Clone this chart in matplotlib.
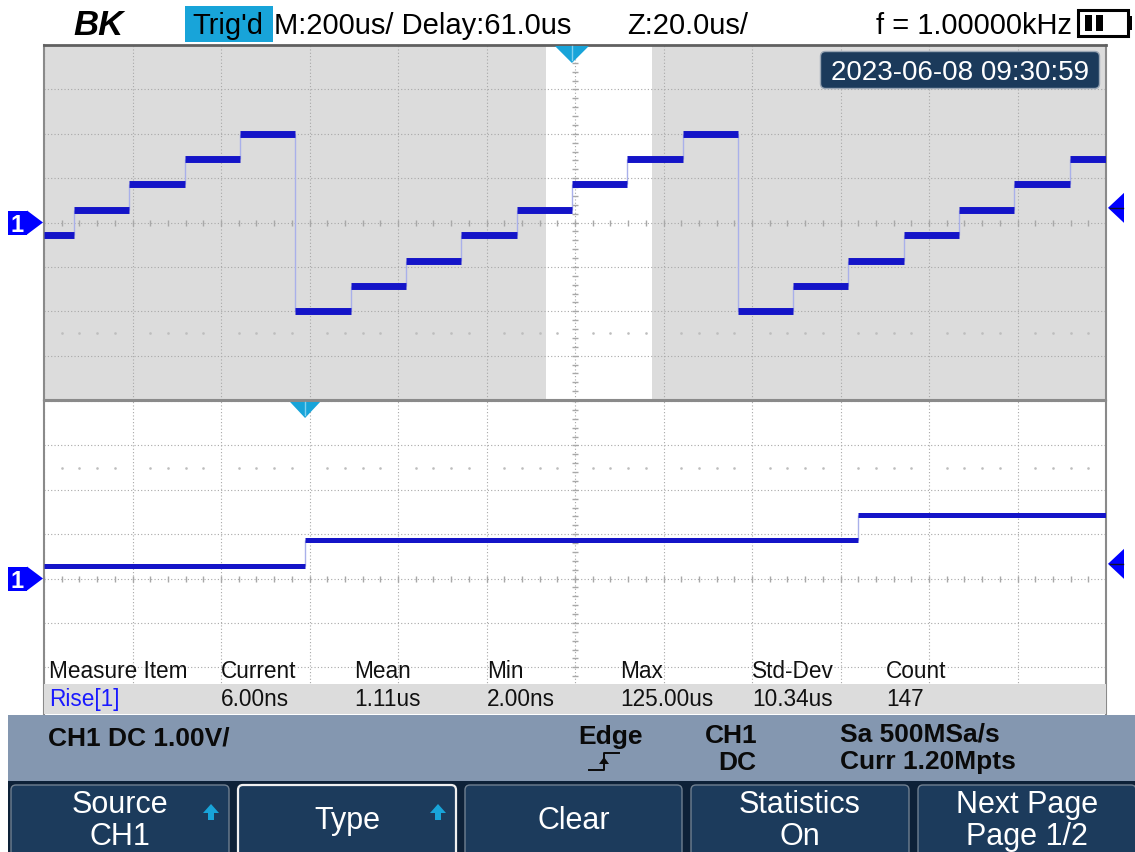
import matplotlib
matplotlib.use("Agg")
import matplotlib.pyplot as plt
from matplotlib.patches import Rectangle, FancyBboxPatch, Polygon
from matplotlib import font_manager as fm

# ---------------- data ----------------
# main window staircase: edge times (us, relative to trigger) and levels (V)
main_edges_us = [-1193, -1125, -1000, -875, -750, -625, -500, -375, -250, -125,
                 0, 125, 250, 375, 500, 625, 750, 875, 1000, 1125, 1207]
main_levels_v = [-0.29, 0.29, 0.86, 1.43, 2.00, -2.00, -1.43, -0.86, -0.29, 0.29,
                 0.86, 1.43, 2.00, -2.00, -1.43, -0.86, -0.29, 0.29, 0.86, 1.43]
# zoom window
zoom_edges_us = [-59, 0, 125, 181]
zoom_levels_v = [0.29, 0.86, 1.43]

trigger_time_us = 0
trigger_level_v = 0.33
main_window_us = (-1193, 1207)
zoom_window_us = (-59, 181)
main_div_us = 200
zoom_div_us = 20
volt_div_range = (-4, 4)

logo_text = "BK"
trig_state = "Trig'd"
timebase_text = "M:200us/ Delay:61.0us"
zoom_text = "Z:20.0us/"
freq_text = "f = 1.00000kHz"
timestamp = "2023-06-08 09:30:59"

measure_headers = ["Measure Item", "Current", "Mean", "Min", "Max", "Std-Dev", "Count"]
measure_values = ["Rise[1]", "6.00ns", "1.11us", "2.00ns", "125.00us", "10.34us", "147"]

status_channel = "CH1 DC 1.00V/"
status_trig_type = "Edge"
status_trig_src = ["CH1", "DC"]
status_sample = ["Sa 500MSa/s", "Curr 1.20Mpts"]

button_labels = ["Source\nCH1", "Type", "Clear", "Statistics\nOn", "Next Page\nPage 1/2"]
button_arrow = [True, True, False, False, False]
button_selected = [False, True, False, False, False]

# ---------------- styling / layout ----------------
W, H = 1135, 852
SANS = "Liberation Sans"
names = {f.name for f in fm.fontManager.ttflist}
if "Liberation Sans Narrow" in names:
    NARROW, NSIZE = "Liberation Sans Narrow", 19.5
else:
    NARROW, NSIZE = "Liberation Sans", 16.3

WAVE = "#1414c8"
EDGE = "#a9b0ea"
GRID = "#a8a8a8"
CYAN = "#18a4d9"
NAVY = "#1b3a5b"
PANEL_GRAY = "#dcdcdc"
BORDER = "#8a8a8a"

fig = plt.figure(figsize=(W / 100, H / 100), dpi=100)
fig.patch.set_facecolor("white")


def px_axes(x0, y0, x1, y1, **kw):
    return fig.add_axes([x0 / W, 1 - y1 / H, (x1 - x0) / W, (y1 - y0) / H], **kw)


top_box = (44, 45, 1106, 400)
bot_box = (44, 401, 1106, 716)
div_px = (top_box[3] - top_box[1]) / 8.0

ax_top = px_axes(*top_box)
ax_bot = px_axes(*bot_box)

ax_top.set_xlim(*main_window_us)
ax_top.set_ylim(*volt_div_range)
bot_vmin = volt_div_range[1] - (bot_box[3] - bot_box[1]) / div_px
ax_bot.set_xlim(*zoom_window_us)
ax_bot.set_ylim(bot_vmin, volt_div_range[1])

ax_top.set_facecolor(PANEL_GRAY)
ax_bot.set_facecolor("white")
ax_top.axvspan(zoom_window_us[0], zoom_window_us[1], color="white", zorder=0, lw=0)


def draw_grid(ax, window, tdiv, dot_row):
    c = 0.5 * (window[0] + window[1])
    ls = (0, (1, 2))
    for k in range(-6, 7):
        ax.axvline(c + k * tdiv, color=GRID, lw=0.8, ls=ls, zorder=1)
    for v in range(-4, 5):
        ax.axhline(v, color=GRID, lw=0.8, ls=ls, zorder=1)
    minor_t = [c + k * tdiv / 5.0 for k in range(-30, 31)]
    ax.plot(minor_t, [0] * len(minor_t), ls="none", marker="|", ms=4,
            mew=1.0, color=GRID, zorder=1)
    minor_v = [k * 0.2 for k in range(-20, 21)]
    ax.plot([c] * len(minor_v), minor_v, ls="none", marker="_", ms=4,
            mew=1.0, color=GRID, zorder=1)
    dots = [t for i, t in enumerate(minor_t) if i % 5 != 0]
    ax.plot(dots, [dot_row] * len(dots), ls="none", marker="s", ms=0.8,
            color="#bdbdbd", zorder=1)


draw_grid(ax_top, main_window_us, main_div_us, -2.5)
draw_grid(ax_bot, zoom_window_us, zoom_div_us, 2.5)


def draw_wave(ax, edges, levels, lw):
    for i in range(1, len(levels)):
        ax.vlines(edges[i], levels[i - 1], levels[i], colors=EDGE, lw=1.0, zorder=2)
    for i, lv in enumerate(levels):
        ax.hlines(lv, edges[i], edges[i + 1], colors=WAVE, lw=lw, zorder=3)


draw_wave(ax_top, main_edges_us, main_levels_v, 5.0)
draw_wave(ax_bot, zoom_edges_us, zoom_levels_v, 3.6)

for ax in (ax_top, ax_bot):
    ax.set_xticks([])
    ax.set_yticks([])
    for s in ax.spines.values():
        s.set_color(BORDER)
        s.set_linewidth(1.5)
ax_top.spines["top"].set_color("#606060")
ax_top.spines["top"].set_linewidth(2.0)
ax_bot.spines["bottom"].set_visible(False)

# ---------------- overlay (screen chrome) ----------------
ov = fig.add_axes([0, 0, 1, 1], zorder=10)
ov.set_xlim(0, W)
ov.set_ylim(H, 0)
ov.axis("off")
ov.patch.set_alpha(0)


def to_px(ax, x, y):
    dx, dy = ax.transData.transform((x, y))
    return dx, H - dy


# top bar
ov.text(73, 35, logo_text, fontsize=25, fontweight="bold", fontstyle="italic",
        family=SANS, color="black", va="baseline", ha="left")
ov.add_patch(Rectangle((185, 6), 88, 36, color=CYAN, lw=0))
ov.text(192, 34, trig_state, fontsize=21, family=SANS, color="black", va="baseline")
ov.text(274, 34, timebase_text, fontsize=21, family=SANS, color="black", va="baseline")
ov.text(627, 34, zoom_text, fontsize=21, family=SANS, color="black", va="baseline")
ov.text(876, 34, freq_text, fontsize=21, family=SANS, color="black", va="baseline")
# battery
ov.add_patch(Rectangle((1078, 10), 50, 26, fill=False, ec="black", lw=2.2))
ov.add_patch(Rectangle((1128, 16), 4, 14, color="black", lw=0))
ov.add_patch(Rectangle((1085, 15), 7, 16, color="black", lw=0))
ov.add_patch(Rectangle((1096, 15), 7, 16, color="black", lw=0))

# timestamp box
ov.add_patch(FancyBboxPatch((822, 53), 276, 34, boxstyle="round,pad=1.5,rounding_size=5",
                            fc=NAVY, ec="#9aa6b4", lw=1.0))
ov.text(960, 80, timestamp, fontsize=20, family=SANS, color="white",
        ha="center", va="baseline")

# trigger position markers (cyan, pointing down)
tx, _ = to_px(ax_top, trigger_time_us, 0)
ov.add_patch(Polygon([(tx - 17, 46), (tx + 17, 46), (tx, 63)], closed=True,
                     color=CYAN, lw=0))
ov.plot([tx, tx], [46, 60], color="#7fd0ef", lw=1.0)
bx, _ = to_px(ax_bot, trigger_time_us, 0)
ov.add_patch(Polygon([(bx - 15, 402), (bx + 15, 402), (bx, 418)], closed=True,
                     color=CYAN, lw=0))
ov.plot([bx, bx], [402, 415], color="#7fd0ef", lw=1.0)

# channel ground markers (left) and trigger level markers (right)
for ax in (ax_top, ax_bot):
    _, gy = to_px(ax, 0, 0)
    ov.add_patch(Rectangle((8, gy - 12), 19, 24, color="#0000ff", lw=0))
    ov.add_patch(Polygon([(27, gy - 12), (27, gy + 12), (43, gy)], closed=True,
                         color="#0000ff", lw=0))
    ov.text(17, gy + 9, "1", fontsize=17, fontweight="bold", family=SANS,
            color="white", ha="center", va="baseline")
    _, ly = to_px(ax, 0, trigger_level_v)
    ov.add_patch(Polygon([(1108, ly), (1124, ly - 15), (1124, ly + 15)], closed=True,
                         color="#0000ff", lw=0))
    ov.plot([1110, 1123], [ly, ly], color="#101030", lw=1.0)

# measurement table
ov.add_patch(Rectangle((44, 684), 1062, 30, color=PANEL_GRAY, lw=0))
col_x = [49, 221, 354, 487, 620, 752, 886]
for i, (hd, val) in enumerate(zip(measure_headers, measure_values)):
    ov.text(col_x[i], 678, hd, fontsize=NSIZE, family=NARROW, color="#111111",
            va="baseline")
    ov.text(col_x[i], 706, val, fontsize=NSIZE, family=NARROW,
            color="#1a1aff" if i == 0 else "#111111", va="baseline")

# status bar
ov.add_patch(Rectangle((8, 715), W - 8, 66, color="#8497b0", lw=0))
stat_kw = dict(fontsize=19, fontweight="bold", family=SANS, color="#0a0a0a",
               va="baseline")
ov.text(48, 745, status_channel, **stat_kw)
ov.text(578, 744, status_trig_type, **stat_kw)
ov.text(705, 743, status_trig_src[0], **stat_kw)
ov.text(718, 770, status_trig_src[1], **stat_kw)
ov.text(840, 741, status_sample[0], **stat_kw)
ov.text(840, 769, status_sample[1], **stat_kw)
# rising edge symbol
ov.plot([589, 604, 604, 619], [770, 770, 753, 753], color="#0a0a0a", lw=1.4)
ov.add_patch(Polygon([(599, 764), (609, 764), (604, 757)], closed=True,
                     color="#0a0a0a", lw=0))

# softkey buttons
ov.add_patch(Rectangle((8, 781), W - 8, H - 781, color="#0d2138", lw=0))
btn_x = [(10, 230), (237, 457), (464, 683), (690, 910), (917, 1137)]
for (x0, x1), lab, arr, sel in zip(btn_x, button_labels, button_arrow, button_selected):
    ov.add_patch(FancyBboxPatch((x0 + 2, 786), x1 - x0 - 4, 80,
                                boxstyle="round,pad=1,rounding_size=5",
                                fc="#1c3b5c", ec="#f0f0f0" if sel else "#6f7f90",
                                lw=1.6 if sel else 1.0))
    cx = 0.5 * (x0 + x1)
    lines = lab.split("\n")
    if len(lines) == 2:
        ov.text(cx, 813, lines[0], fontsize=22, family=SANS, color="white",
                ha="center", va="baseline")
        ov.text(cx, 845, lines[1], fontsize=22, family=SANS, color="white",
                ha="center", va="baseline")
    else:
        ov.text(cx, 829, lines[0], fontsize=22, family=SANS, color="white",
                ha="center", va="baseline")
    if arr:
        ax_ = x1 - 19
        ov.add_patch(Polygon([(ax_ - 8, 813), (ax_ + 8, 813), (ax_, 804)], closed=True,
                             color=CYAN, lw=0))
        ov.add_patch(Rectangle((ax_ - 3, 812), 6, 8, color=CYAN, lw=0))

fig.savefig("out.png", dpi=100, facecolor="white")
